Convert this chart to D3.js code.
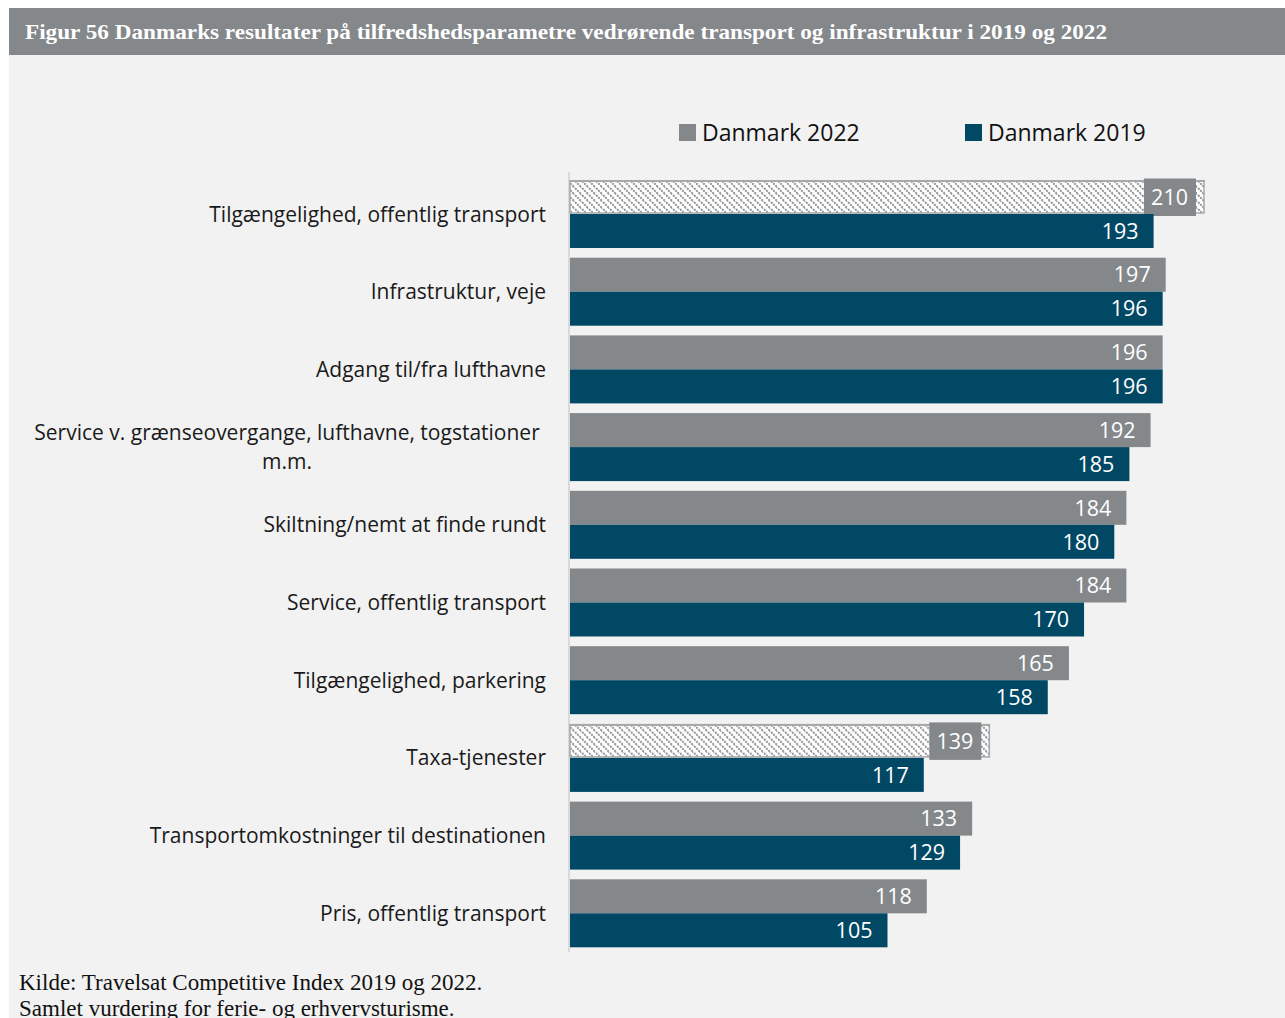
<!DOCTYPE html>
<html><head><meta charset="utf-8">
<script src="https://cdn.jsdelivr.net/npm/d3@7"></script>
<style>
html,body{margin:0;padding:0;background:#ffffff;}
svg{display:block;}
</style></head>
<body>
<script>
const categories = [
  "Tilgængelighed, offentlig transport",
  "Infrastruktur, veje",
  "Adgang til/fra lufthavne",
  "Service v. grænseovergange, lufthavne, togstationer|m.m.",
  "Skiltning/nemt at finde rundt",
  "Service, offentlig transport",
  "Tilgængelighed, parkering",
  "Taxa-tjenester",
  "Transportomkostninger til destinationen",
  "Pris, offentlig transport"
];
const values2022 = [210, 197, 196, 192, 184, 184, 165, 139, 133, 118];
const values2019 = [193, 196, 196, 185, 180, 170, 158, 117, 129, 105];
const hatched2022 = [true, false, false, false, false, false, false, true, false, false];
const seriesNames = ["Danmark 2022", "Danmark 2019"];
const titleText = "Figur 56 Danmarks resultater på tilfredshedsparametre vedrørende transport og infrastruktur i 2019 og 2022";
const sourceLines = ["Kilde: Travelsat Competitive Index 2019 og 2022.", "Samlet vurdering for ferie- og erhvervsturisme."];

const W = 1285, H = 1018;
const colGrey = "#84888b", colNavy = "#004864", bg = "#f2f2f2";
const svg = d3.select("body").append("svg").attr("width", W).attr("height", H);

const defs = svg.append("defs");
const pat = defs.append("pattern").attr("id","hatch").attr("patternUnits","userSpaceOnUse")
  .attr("width",7).attr("height",7);
pat.append("rect").attr("width",7).attr("height",7).attr("fill","#ffffff");
pat.append("path").attr("d","M-1,-1 L8,8 M-8,-1 L1,8 M6,-1 L15,8").attr("stroke","#8e9193").attr("stroke-width",2)
  .attr("stroke-dasharray","2,1");

svg.append("rect").attr("x",9).attr("y",8).attr("width",W-9).attr("height",H-8).attr("fill",bg);
svg.append("rect").attr("x",9).attr("y",8).attr("width",W-9).attr("height",47).attr("fill",colGrey);
svg.append("text").attr("x",25).attr("y",39).attr("fill","#ffffff")
  .attr("font-family","'Liberation Serif', 'DejaVu Serif', serif").attr("font-weight","bold")
  .attr("font-size",22).attr("textLength",1082).attr("lengthAdjust","spacingAndGlyphs").text(titleText);

const x = d3.scaleLinear().domain([0, 210]).range([570, 1205]);
const y = d3.scaleBand().domain(categories).range([180, 947.3]).paddingInner(0.125).paddingOuter(0);
const ys = d3.scaleBand().domain(seriesNames).range([0, y.bandwidth()]);

// axis line
svg.append("line").attr("x1",569).attr("x2",569).attr("y1",172).attr("y2",952)
  .attr("stroke","#d9d9d9").attr("stroke-width",2);

const labelFont = "'Open Sans', 'Noto Sans', sans-serif";
const valSize = 21.5;

const rows = categories.map((c,i)=>({c, v22: values2022[i], v19: values2019[i], h: hatched2022[i]}));
const g = svg.append("g");
const row = g.selectAll("g.row").data(rows).join("g").attr("class","row")
  .attr("transform", d=>`translate(0,${y(d.c)})`);

row.each(function(d){
  const s = d3.select(this);
  const y0 = ys(seriesNames[0]), bh = ys.bandwidth();
  if (d.h) {
    s.append("rect").attr("x",x(0)).attr("y",y0+1).attr("width",x(d.v22)-x(0)-1).attr("height",bh-2)
      .attr("fill","url(#hatch)").attr("stroke","#a6a8aa").attr("stroke-width",1.5);
    s.append("rect").attr("x",x(0)).attr("y",y0).attr("width",x(d.v22)-x(0)).attr("height",2).attr("fill","#a6a8aa");
    s.append("rect").attr("x",x(d.v22)-61).attr("y",y0-1.5).attr("width",52).attr("height",bh+3.5).attr("fill",colGrey);
    s.append("text").attr("x",x(d.v22)-17).attr("y",y0+bh/2).attr("dy","0.36em").attr("text-anchor","end")
      .attr("fill","#fff").attr("font-family",labelFont).attr("font-size",valSize).text(d.v22);
  } else {
    s.append("rect").attr("x",x(0)).attr("y",y0).attr("width",x(d.v22)-x(0)).attr("height",bh).attr("fill",colGrey);
    s.append("text").attr("x",x(d.v22)-15).attr("y",y0+bh/2).attr("dy","0.36em").attr("text-anchor","end")
      .attr("fill","#fff").attr("font-family",labelFont).attr("font-size",valSize).text(d.v22);
  }
  const y1 = ys(seriesNames[1]);
  s.append("rect").attr("x",x(0)).attr("y",y1).attr("width",x(d.v19)-x(0)).attr("height",bh).attr("fill",colNavy);
  s.append("text").attr("x",x(d.v19)-15).attr("y",y1+bh/2).attr("dy","0.36em").attr("text-anchor","end")
    .attr("fill","#fff").attr("font-family",labelFont).attr("font-size",valSize).text(d.v19);
  const lines = d.c.split("|");
  const cy = y.bandwidth()/2;
  const lh = 29;
  const t = s.append("text").attr("text-anchor", lines.length>1 ? "middle" : "end")
    .attr("font-family",labelFont).attr("font-size",21).attr("fill","#1a1a1a");
  lines.forEach((ln,k)=>{
    t.append("tspan").attr("x", lines.length>1 ? 287 : 546)
      .attr("y", cy + (k-(lines.length-1)/2)*lh).attr("dy","0.36em").text(ln);
  });
});

// legend
const leg = svg.append("g");
const legPos = [679, 965];
const legCol = [colGrey, colNavy];
seriesNames.forEach((n,i)=>{
  leg.append("rect").attr("x",legPos[i]).attr("y",124).attr("width",17).attr("height",17).attr("fill",legCol[i]);
  leg.append("text").attr("x",legPos[i]+23).attr("y",132.5).attr("dy","0.36em")
    .attr("font-family",labelFont).attr("font-size",23).attr("fill","#111").text(n);
});

// source
sourceLines.forEach((s,i)=>{
  svg.append("text").attr("x",19).attr("y",990+i*26).attr("font-family","'Liberation Serif', 'DejaVu Serif', serif")
    .attr("font-size",23).attr("fill","#111").text(s);
});
</script>
</body></html>
